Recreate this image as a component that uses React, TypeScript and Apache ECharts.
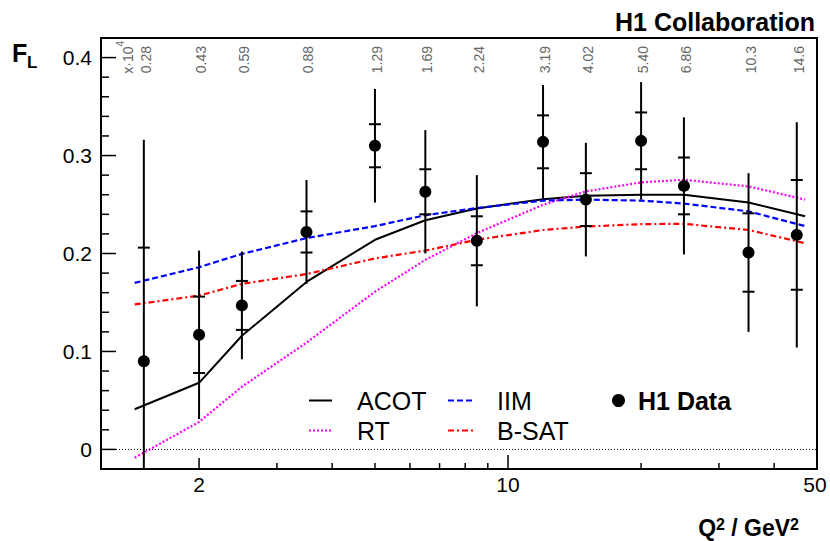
import React, { useEffect, useRef } from "react";
import * as echarts from "echarts";

// ---- data ----
const q2 = [1.5, 2, 2.5, 3.5, 5, 6.5, 8.5, 12, 15, 20, 25, 35, 45];
const xBjorken = ["0.28", "0.43", "0.59", "0.88", "1.29", "1.69", "2.24", "3.19", "4.02", "5.40", "6.86", "10.3", "14.6"];
const flValues = [0.090, 0.117, 0.147, 0.222, 0.310, 0.263, 0.213, 0.314, 0.255, 0.315, 0.269, 0.201, 0.219];
const statErrors = [0.116, 0.039, 0.025, 0.021, 0.022, 0.023, 0.025, 0.027, 0.027, 0.029, 0.029, 0.040, 0.056];
const totalErrors = [0.226, 0.086, 0.055, 0.053, 0.058, 0.063, 0.067, 0.058, 0.058, 0.060, 0.070, 0.081, 0.115];

const curveQ2 = [1.43, 2, 2.5, 3.5, 5, 6.5, 8.5, 12, 15, 20, 25, 35, 47];
const acot = [0.041, 0.068, 0.116, 0.171, 0.214, 0.234, 0.246, 0.2555, 0.259, 0.26, 0.26, 0.252, 0.238];
const iim = [0.17, 0.186, 0.1996, 0.2157, 0.228, 0.239, 0.2464, 0.254, 0.255, 0.254, 0.251, 0.243, 0.228];
const bsat = [0.148, 0.157, 0.169, 0.179, 0.195, 0.203, 0.214, 0.224, 0.2275, 0.23, 0.2303, 0.224, 0.2105];
const rt = [-0.0085, 0.028, 0.064, 0.109, 0.161, 0.1935, 0.2208, 0.2497, 0.2634, 0.2726, 0.2753, 0.2685, 0.255];

const xLabelTicks = [2, 10, 50];
const xMajorTicks = [10];
const xMediumTicks = [2];
const xMinorTicks = [3, 4, 5, 6, 7, 8, 9, 20, 30, 40];
const yMajorTicks = [0, 0.1, 0.2, 0.3, 0.4];
const yMinorTicks = [0.02, 0.04, 0.06, 0.08, 0.12, 0.14, 0.16, 0.18, 0.22, 0.24, 0.26, 0.28, 0.32, 0.34, 0.36, 0.38];

const X_MIN = 1.2;
const X_MAX = 50;
const Y_MIN = -0.02;
const Y_MAX = 0.42;

const FONT = '"Liberation Sans", Arial, Helvetica, sans-serif';

export default function App() {
  const ref = useRef<HTMLDivElement>(null);

  useEffect(() => {
    if (!ref.current) return;
    const chart = echarts.init(ref.current, undefined, { renderer: "svg" });

    const pairs = (xs: number[], ys: number[]) => xs.map((x, i) => [x, ys[i]]);

    const legendText = {
      fontSize: 25,
      fontFamily: FONT,
      color: "#000",
      lineHeight: 25,
    };
    const hiddenSymbol = { color: "rgba(0,0,0,0)", borderWidth: 0, opacity: 0 };

    const option: any = {
      animation: false,
      backgroundColor: "#fff",
      title: {
        text: "H1 Collaboration",
        right: 15,
        top: 9,
        padding: 0,
        textStyle: { fontSize: 25, fontWeight: "bold", fontFamily: FONT, color: "#000" },
      },
      grid: {
        left: 101,
        right: 13,
        top: 38,
        bottom: 72,
        show: true,
        borderColor: "#000",
        borderWidth: 2,
        backgroundColor: "transparent",
      },
      xAxis: {
        type: "log",
        logBase: 10,
        min: X_MIN,
        max: X_MAX,
        axisLine: { show: false },
        axisTick: { show: false },
        axisLabel: { show: false },
        splitLine: { show: false },
        minorTick: { show: false },
      },
      yAxis: {
        type: "value",
        min: Y_MIN,
        max: Y_MAX,
        interval: 0.02,
        axisLine: { show: false },
        axisTick: { show: false },
        splitLine: { show: false },
        axisLabel: {
          margin: 9,
          fontSize: 21,
          fontFamily: FONT,
          color: "#000",
          formatter: (v: number) => {
            const t = v * 10;
            if (Math.abs(t - Math.round(t)) > 1e-6) return "";
            const r = Math.round(t) / 10;
            return r === 0 ? "0" : String(r);
          },
        },
      },
      legend: [
        {
          data: ["ACOT", "RT"],
          orient: "vertical",
          left: 308,
          top: 388,
          padding: 0,
          itemGap: 5,
          itemWidth: 23,
          itemHeight: 14,
          selectedMode: false,
          itemStyle: hiddenSymbol,
          textStyle: { ...legendText, padding: [0, 0, 0, 20] },
        },
        {
          data: ["IIM", "B-SAT"],
          orient: "vertical",
          left: 447,
          top: 388,
          padding: 0,
          itemGap: 5,
          itemWidth: 26,
          itemHeight: 14,
          selectedMode: false,
          itemStyle: hiddenSymbol,
          textStyle: { ...legendText, padding: [0, 0, 0, 18] },
        },
        {
          data: ["H1 Data"],
          orient: "vertical",
          left: 612,
          top: 388,
          padding: 0,
          itemWidth: 13,
          itemHeight: 13,
          selectedMode: false,
          textStyle: { ...legendText, fontWeight: "bold", padding: [0, 0, 0, 8] },
        },
      ],
      graphic: [
        {
          type: "text",
          x: 12,
          y: 53,
          style: {
            text: "F",
            fontSize: 25,
            fontWeight: "bold",
            fontFamily: FONT,
            fill: "#000",
            align: "left",
            textAlign: "left",
            verticalAlign: "middle",
            textVerticalAlign: "middle",
          },
        },
        {
          type: "text",
          x: 27,
          y: 62,
          style: {
            text: "L",
            fontSize: 17,
            fontWeight: "bold",
            fontFamily: FONT,
            fill: "#000",
            align: "left",
            textAlign: "left",
            verticalAlign: "middle",
            textVerticalAlign: "middle",
          },
        },
        {
          type: "text",
          x: 125,
          y: 41,
          rotation: Math.PI / 2,
          style: {
            text: "{a|x·10}{s|4}",
            align: "right",
            textAlign: "right",
            verticalAlign: "middle",
            textVerticalAlign: "middle",
            rich: {
              a: { fontSize: 14, fontFamily: FONT, fill: "#666", color: "#666", lineHeight: 20, verticalAlign: "bottom" },
              s: { fontSize: 10, fontFamily: FONT, fill: "#666", color: "#666", lineHeight: 20, verticalAlign: "top" },
            },
          },
        },
        {
          type: "text",
          x: 799,
          y: 528,
          style: {
            text: "{a|Q}{s|2}{a| / GeV}{s|2}",
            align: "right",
            textAlign: "right",
            verticalAlign: "middle",
            textVerticalAlign: "middle",
            rich: {
              a: { fontSize: 23, fontWeight: "bold", fontFamily: FONT, fill: "#000", color: "#000", lineHeight: 24 },
              s: { fontSize: 16, fontWeight: "bold", fontFamily: FONT, fill: "#000", color: "#000", lineHeight: 16, verticalAlign: "top" },
            },
          },
        },
      ],
      series: [
        {
          name: "ACOT",
          type: "line",
          data: pairs(curveQ2, acot),
          symbol: "none",
          z: 3,
          lineStyle: { color: "#000", width: 2, type: "solid" },
          itemStyle: { color: "#000" },
          markLine: {
            silent: true,
            symbol: "none",
            label: { show: false },
            lineStyle: { color: "#000", width: 1, type: [1, 2] },
            data: [{ yAxis: 0 }],
          },
        },
        {
          name: "RT",
          type: "line",
          data: pairs(curveQ2, rt),
          symbol: "none",
          z: 3,
          lineStyle: { color: "#ff00ff", width: 2.2, type: [2, 2] },
          itemStyle: { color: "#ff00ff" },
        },
        {
          name: "IIM",
          type: "line",
          data: pairs(curveQ2, iim),
          symbol: "none",
          z: 3,
          lineStyle: { color: "#0000ff", width: 2.2, type: [6, 3] },
          itemStyle: { color: "#0000ff" },
        },
        {
          name: "B-SAT",
          type: "line",
          data: pairs(curveQ2, bsat),
          symbol: "none",
          z: 3,
          lineStyle: { color: "#ff0000", width: 2.2, type: [6, 3, 2, 3] },
          itemStyle: { color: "#ff0000" },
        },
        {
          name: "errors",
          type: "custom",
          z: 4,
          silent: true,
          data: q2.map((x, i) => [x, flValues[i], statErrors[i], totalErrors[i]]),
          encode: { x: 0, y: 1 },
          renderItem: (params: any, api: any) => {
            const cs = params.coordSys;
            const xv = api.value(0);
            const v = api.value(1);
            const st = api.value(2);
            const tot = api.value(3);
            const px = api.coord([xv, v])[0];
            const yOf = (val: number) => api.coord([xv, val])[1];
            const top = cs.y;
            const bot = cs.y + cs.height;
            const clamp = (y: number) => Math.max(top, Math.min(bot, y));
            const style = { stroke: "#000", lineWidth: 2 };
            const children: any[] = [
              { type: "line", shape: { x1: px, y1: clamp(yOf(v - tot)), x2: px, y2: clamp(yOf(v + tot)) }, style },
            ];
            [v + st, v - st].forEach((val) => {
              const y = yOf(val);
              if (y >= top && y <= bot) {
                children.push({ type: "line", shape: { x1: px - 6, y1: y, x2: px + 6, y2: y }, style });
              }
            });
            return { type: "group", children };
          },
        },
        {
          name: "H1 Data",
          type: "scatter",
          z: 5,
          data: pairs(q2, flValues),
          symbol: "circle",
          symbolSize: 12,
          itemStyle: { color: "#000", opacity: 1 },
        },
        {
          name: "xticks",
          type: "custom",
          z: 6,
          silent: true,
          data: [
            ...xMajorTicks.map((v) => [v, Y_MIN, 2]),
            ...xMediumTicks.map((v) => [v, Y_MIN, 1]),
            ...xMinorTicks.map((v) => [v, Y_MIN, 0]),
          ],
          encode: { x: 0, y: 1 },
          renderItem: (params: any, api: any) => {
            const cs = params.coordSys;
            const len = [6, 11, 14][api.value(2)];
            const x = api.coord([api.value(0), Y_MIN])[0];
            const b = cs.y + cs.height;
            return { type: "line", shape: { x1: x, y1: b, x2: x, y2: b - len }, style: { stroke: "#000", lineWidth: 1.5 } };
          },
        },
        {
          name: "yticks",
          type: "custom",
          z: 6,
          silent: true,
          data: [...yMajorTicks.map((v) => [X_MIN, v, 1]), ...yMinorTicks.map((v) => [X_MIN, v, 0])],
          encode: { x: 0, y: 1 },
          renderItem: (params: any, api: any) => {
            const cs = params.coordSys;
            const len = [8, 15][api.value(2)];
            const y = api.coord([X_MIN, api.value(1)])[1];
            return { type: "line", shape: { x1: cs.x, y1: y, x2: cs.x + len, y2: y }, style: { stroke: "#000", lineWidth: 1.5 } };
          },
        },
        {
          name: "xlabels",
          type: "custom",
          z: 6,
          silent: true,
          data: xLabelTicks.map((v) => [v, Y_MIN]),
          encode: { x: 0, y: 1 },
          renderItem: (params: any, api: any) => {
            const cs = params.coordSys;
            const v = api.value(0);
            const x = api.coord([v, Y_MIN])[0];
            return {
              type: "text",
              x: x - (v === 50 ? 2 : 0),
              y: cs.y + cs.height + 15,
              style: {
                text: String(v),
                align: "center",
                textAlign: "center",
                verticalAlign: "middle",
                textVerticalAlign: "middle",
                fontSize: 21,
                fontFamily: FONT,
                fill: "#000",
              },
            };
          },
        },
        {
          name: "toplabels",
          type: "custom",
          z: 6,
          silent: true,
          data: q2.map((v) => [v, Y_MAX]),
          encode: { x: 0, y: 1 },
          renderItem: (params: any, api: any) => {
            const cs = params.coordSys;
            const x = api.coord([api.value(0), Y_MAX])[0];
            return {
              type: "text",
              x: x + 2,
              y: cs.y + 8,
              rotation: Math.PI / 2,
              style: {
                text: xBjorken[params.dataIndex],
                align: "right",
                textAlign: "right",
                verticalAlign: "middle",
                textVerticalAlign: "middle",
                fontSize: 14,
                fontFamily: FONT,
                fill: "#666",
              },
            };
          },
        },
      ],
    };

    chart.setOption(option);
    return () => chart.dispose();
  }, []);

  return <div ref={ref} style={{ width: 830, height: 541, position: "absolute", left: 0, top: 0 }} />;
}
